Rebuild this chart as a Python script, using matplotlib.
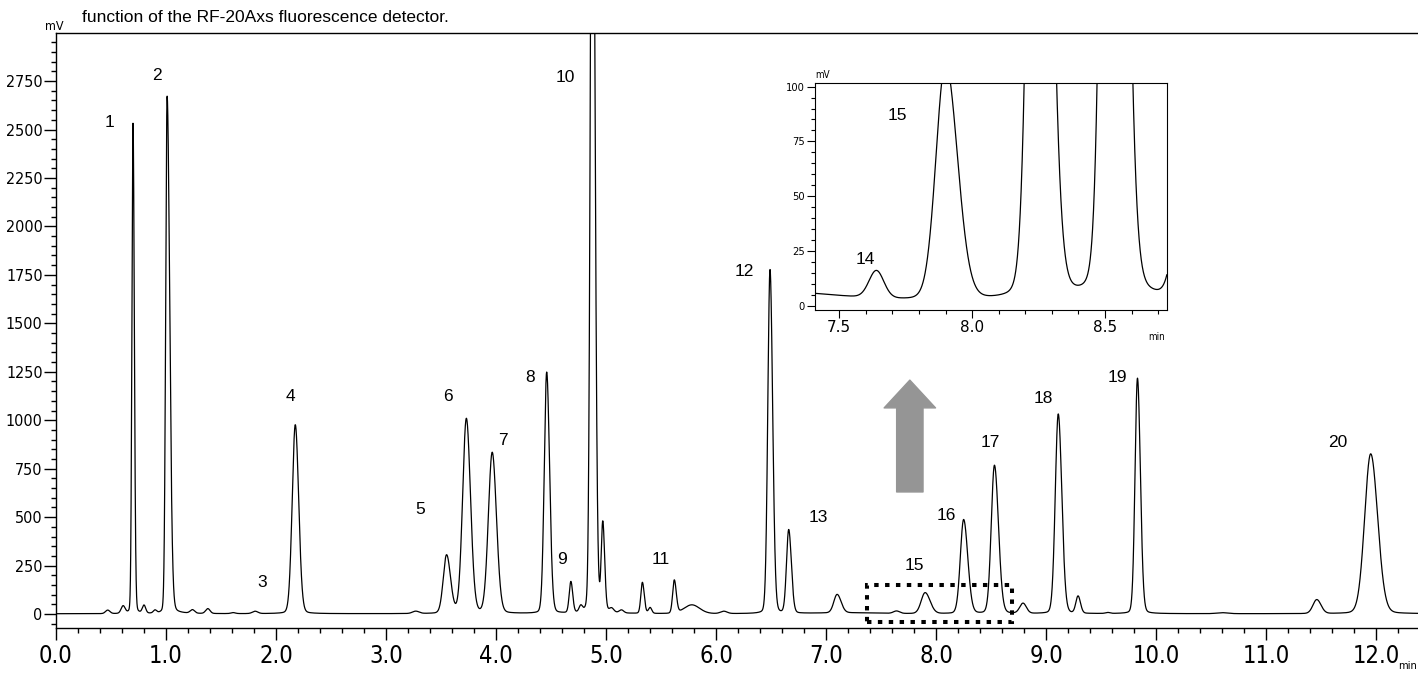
import numpy as np
import matplotlib.pyplot as plt

# peak table (min, mV, min, right/left width ratio)
peak_time = [0.47, 0.61, 0.70, 0.80, 0.90, 1.01, 1.24, 1.38, 1.61, 1.81,
             2.175, 3.27, 3.55, 3.73, 3.965, 4.46, 4.68, 4.77, 4.875, 4.97,
             5.05, 5.14, 5.33, 5.40, 5.62, 5.78, 6.07, 6.49, 6.66, 7.10,
             7.20, 7.64, 7.90, 8.25, 8.53, 8.79, 9.11, 9.29, 9.56, 9.83,
             10.6, 11.46, 11.95]
peak_height = [18, 38, 2530, 40, 15, 2670, 18, 25, 5, 12,
               975, 12, 300, 1005, 830, 1245, 160, 30, 5000, 450,
               20, 15, 160, 30, 170, 45, 12, 1775, 430, 95,
               4.5, 12.5, 108, 485, 765, 52, 1030, 88, 5, 1215,
               5, 72, 825]
peak_sigma = [0.02, 0.018, 0.010, 0.015, 0.015, 0.013, 0.02, 0.02, 0.02, 0.025,
              0.028, 0.03, 0.03, 0.034, 0.035, 0.022, 0.015, 0.015, 0.017, 0.014,
              0.02, 0.02, 0.014, 0.015, 0.015, 0.07, 0.03, 0.02, 0.02, 0.03,
              0.27, 0.028, 0.036, 0.03, 0.029, 0.03, 0.027, 0.02, 0.02, 0.022,
              0.05, 0.035, 0.055]
peak_tail = [1.0, 1.0, 1.2, 1.0, 1.0, 1.8, 1.0, 1.0, 1.0, 1.0,
             1.1, 1.0, 1.2, 1.1, 1.1, 1.2, 1.1, 1.0, 1.3, 1.2,
             1.0, 1.0, 1.2, 1.0, 1.2, 1.0, 1.0, 1.2, 1.2, 1.2,
             1.0, 1.0, 1.25, 1.25, 1.25, 1.0, 1.2, 1.1, 1.0, 1.2,
             1.0, 1.1, 1.15]
baseline = 1.6

# peak numbers and where they are written
label_text = [str(i) for i in range(1, 21) if i != 14]
label_time = [0.49, 0.92, 1.87, 2.13, 3.31, 3.56, 4.06, 4.31, 4.60, 4.63,
              5.50, 6.26, 6.93, 7.80, 8.09, 8.49, 8.97, 9.65, 11.65]
label_level = [2534, 2781, 165, 1120, 537, 1120, 893, 1223, 279, 2766,
               279, 1770, 500, 253, 506, 887, 1114, 1223, 887]

inset_text = ['14', '15']
inset_time = [7.597, 7.717]
inset_level = [20.9, 86.6]

TICKFONT = dict(family='DejaVu Sans', stretch='condensed')


def peak_shape(t, t0, h, s, tail, eta=0.08):
    sig = np.where(t < t0, s, s * tail)
    gauss = np.exp(-0.5 * ((t - t0) / sig) ** 2)
    lor = 1.0 / (1.0 + ((t - t0) / (1.1774 * sig)) ** 2)
    return h * ((1 - eta) * gauss + eta * lor)


t = np.linspace(0, 12.4, 25000)
signal = np.full_like(t, baseline)
for t0, h, s, k in zip(peak_time, peak_height, peak_sigma, peak_tail):
    signal += peak_shape(t, t0, h, s, k)

W, H = 1418, 673
fig = plt.figure(figsize=(W / 100, H / 100), dpi=100)
ax = fig.add_axes([56 / W, 1 - 628 / H, 1 - 56 / W, (628 - 33) / H])
ax.plot(t, signal, color='black', lw=0.9)
ax.set_xlim(0, 12.38)
ax.set_ylim(-72, 2998)
ax.spines['right'].set_visible(False)
for s in ['left', 'bottom', 'top']:
    ax.spines[s].set_linewidth(1.0)

ax.set_xticks(np.arange(0, 12.1, 1.0))
ax.set_xticklabels([f'{v:.1f}' for v in np.arange(0, 12.1, 1.0)],
                   fontsize=17, **TICKFONT)
ax.set_xticks(np.arange(0, 12.39, 0.2), minor=True)
ax.set_yticks(np.arange(0, 2751, 250))
ax.set_yticklabels([str(v) for v in range(0, 2751, 250)],
                   fontsize=11.5, **TICKFONT)
ax.set_yticks(np.arange(-50, 2999, 50), minor=True)
ax.tick_params(axis='both', which='major', direction='out', length=8.6, width=1.0)
ax.tick_params(axis='both', which='minor', direction='out', length=3.6, width=1.0)
ax.tick_params(axis='x', which='major', pad=3)
ax.tick_params(axis='y', which='major', pad=1)

for txt, x, y in zip(label_text, label_time, label_level):
    ax.text(x, y, txt, fontsize=12.5, ha='center', va='center',
            family='Liberation Sans')

# dotted box around the zoomed range
box = plt.Rectangle((7.37, -43), 8.688 - 7.37, 152 + 43, fill=False,
                    edgecolor='black', lw=2.9, linestyle=(0, (1.1, 1.6)))
ax.add_patch(box)

# grey arrow pointing to the inset
ax.annotate('', xy=(7.761, 1207), xytext=(7.761, 630),
            arrowprops=dict(arrowstyle='simple,head_length=2.0,head_width=3.7,tail_width=1.9',
                            mutation_scale=10, color='#959595', shrinkA=0, shrinkB=0))

fig.text(82 / W, 1 - 22 / H, 'function of the RF-20Axs fluorescence detector.',
         fontsize=12.5, family='Liberation Sans', va='baseline')
fig.text(54 / W, 1 - 26 / H, 'mV', fontsize=9, ha='center', va='center', **TICKFONT)
fig.text(1417 / W, 1 - 666 / H, 'min', fontsize=8, ha='right', va='center', **TICKFONT)

# inset: same trace, zoomed
ax2 = fig.add_axes([815 / W, 1 - 310 / H, (1166.7 - 815) / W, (310 - 82.7) / H])
ax2.plot(t, signal, color='black', lw=0.9)
ax2.set_xlim(7.409, 8.732)
ax2.set_ylim(-2, 101.8)
ax2.set_xticks([7.5, 8.0, 8.5])
ax2.set_xticklabels(['7.5', '8.0', '8.5'], fontsize=11)
ax2.set_xticks(np.arange(7.5, 8.75, 0.1), minor=True)
ax2.set_yticks([0, 25, 50, 75, 100])
ax2.set_yticklabels(['0', '25', '50', '75', '100'], fontsize=8, **TICKFONT)
ax2.set_yticks(np.arange(0, 101, 5), minor=True)
ax2.tick_params(axis='both', which='major', direction='out', length=5.5, width=0.8, pad=2)
ax2.tick_params(axis='both', which='minor', direction='out', length=3, width=0.8)
for txt, x, y in zip(inset_text, inset_time, inset_level):
    ax2.text(x, y, txt, fontsize=12.5, ha='center', va='center',
             family='Liberation Sans')
fig.text(823 / W, 1 - 75 / H, 'mV', fontsize=7, ha='center', va='center', **TICKFONT)
fig.text(1157 / W, 1 - 337 / H, 'min', fontsize=7, ha='center', va='center', **TICKFONT)

fig.savefig('out.png', dpi=100)
